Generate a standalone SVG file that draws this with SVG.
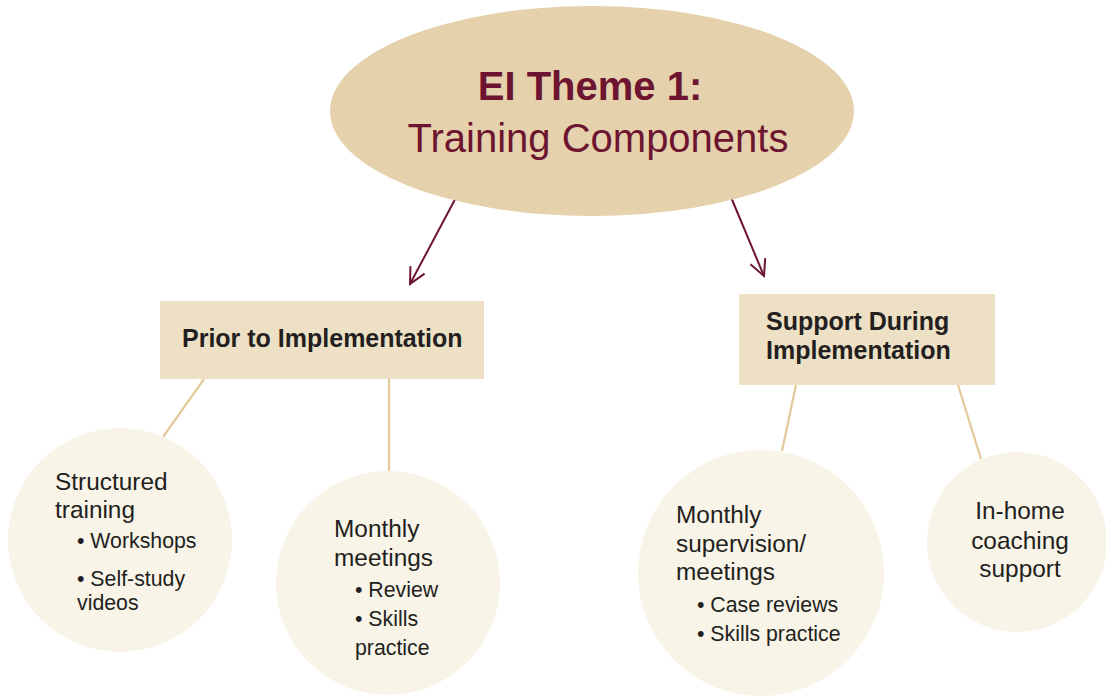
<svg xmlns="http://www.w3.org/2000/svg" width="1106" height="696" viewBox="0 0 1106 696">
  <style>
    .title { font-family: "Liberation Sans", Arial, sans-serif; fill: #6d1530; font-size: 40px; text-anchor: middle; }
    .box { fill: #ede0c5; }
    .boxtext { font-family: "Liberation Sans", Arial, sans-serif; font-weight: bold; fill: #231f20; font-size: 25px; }
    .circ { fill: #f8f4e8; }
    .txt { font-family: "Liberation Sans", Arial, sans-serif; fill: #231f20; font-size: 24.4px; }
    .sub { font-size: 21.3px; }
    .arrow { stroke: #6d1530; stroke-width: 2; fill: none; }
    .link { stroke: #e2c99a; stroke-width: 2.2; fill: none; }
  </style>
  <defs>
    <marker id="head" viewBox="0 0 20 20" refX="18" refY="10" markerWidth="20" markerHeight="20" markerUnits="userSpaceOnUse" orient="auto">
      <path d="M2,2 L18,10 L2,18" fill="none" stroke="#6d1530" stroke-width="2"/>
    </marker>
  </defs>

  <!-- connectors -->
  <g id="connectors">
    <line class="arrow" x1="460" y1="190" x2="410" y2="284" marker-end="url(#head)"/>
    <line class="arrow" x1="728" y1="190" x2="764" y2="276" marker-end="url(#head)"/>
    <line class="link" x1="204" y1="379" x2="163" y2="437"/>
    <line class="link" x1="389" y1="379" x2="389" y2="471"/>
    <line class="link" x1="796" y1="385" x2="782" y2="451"/>
    <line class="link" x1="958" y1="385" x2="981" y2="459"/>
  </g>

  <!-- central theme -->
  <g id="theme">
    <ellipse cx="592" cy="111" rx="262" ry="105" fill="#e5d1ab"/>
    <text class="title" x="590" y="100" font-weight="bold">EI Theme 1:</text>
    <text class="title" x="598" y="152">Training Components</text>
  </g>

  <!-- phase headers -->
  <g id="prior">
    <rect class="box" x="160" y="301" width="324" height="78"/>
    <text class="boxtext" x="182" y="347">Prior to Implementation</text>
  </g>
  <g id="during">
    <rect class="box" x="739" y="294" width="256" height="91"/>
    <text class="boxtext" x="766" y="330">Support During</text>
    <text class="boxtext" x="766" y="359">Implementation</text>
  </g>

  <!-- components -->
  <g id="structured">
    <circle class="circ" cx="120" cy="540" r="112"/>
    <text class="txt" x="55" y="490">Structured</text>
    <text class="txt" x="55" y="518">training</text>
    <text class="txt sub" x="77" y="548">• Workshops</text>
    <text class="txt sub" x="77" y="586">• Self-study</text>
    <text class="txt sub" x="77" y="610">videos</text>
  </g>
  <g id="monthly-meetings">
    <circle class="circ" cx="388" cy="583" r="112"/>
    <text class="txt" x="334" y="537">Monthly</text>
    <text class="txt" x="334" y="566">meetings</text>
    <text class="txt sub" x="355" y="597">• Review</text>
    <text class="txt sub" x="355" y="626">• Skills</text>
    <text class="txt sub" x="355" y="655">practice</text>
  </g>
  <g id="supervision">
    <circle class="circ" cx="761" cy="573" r="123"/>
    <text class="txt" x="676" y="523">Monthly</text>
    <text class="txt" x="676" y="552">supervision/</text>
    <text class="txt" x="676" y="580">meetings</text>
    <text class="txt sub" x="697" y="612">• Case reviews</text>
    <text class="txt sub" x="697" y="641">• Skills practice</text>
  </g>
  <g id="coaching">
    <circle class="circ" cx="1017" cy="542" r="90"/>
    <text class="txt" x="1020" y="519" text-anchor="middle">In-home</text>
    <text class="txt" x="1020" y="549" text-anchor="middle">coaching</text>
    <text class="txt" x="1020" y="577" text-anchor="middle">support</text>
  </g>
</svg>
